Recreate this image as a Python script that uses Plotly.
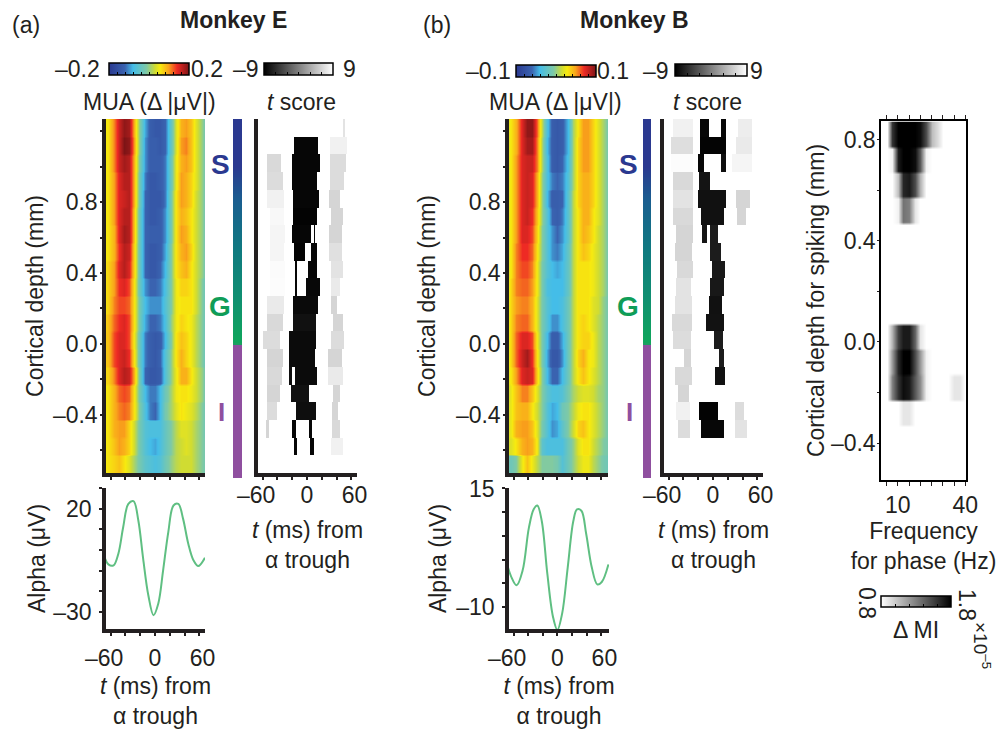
import numpy as np
import plotly.graph_objects as go

W, H = 999, 729
FONT = "Liberation Sans"
INK = "#231f20"
FS = 23

# ---------- data ----------
TIME_COLS = list(range(-70, 71, 7))
DEPTH_ROWS = [1.22, 1.12, 1.02, 0.92, 0.82, 0.72, 0.62, 0.52, 0.42, 0.32,
              0.22, 0.12, 0.02, -0.08, -0.18, -0.28, -0.38, -0.48, -0.58, -0.68]

# MUA, monkey E, in 0.01 uV
MUA_E = [
 [5,6,11,16,19,18,9,0,-9,-13,-14,-14,-12,-4,4,9,10,8,4,0,-4],
 [5,6,11,16,20,19,10,0,-10,-13,-13,-14,-12,-4,4,10,11,8,4,0,-4],
 [5,6,11,16,18,17,9,-1,-10,-13,-13,-13,-11,-3,5,9,10,8,4,0,-4],
 [5,6,10,15,17,17,9,-2,-11,-14,-14,-13,-11,-3,5,10,9,7,4,0,-4],
 [5,6,10,15,16,17,9,-2,-12,-14,-14,-14,-11,-2,6,10,9,7,3,0,-4],
 [5,6,10,15,17,17,8,-3,-12,-14,-14,-13,-10,-2,6,9,8,6,3,0,-4],
 [5,6,9,15,18,17,8,-3,-12,-13,-13,-13,-10,-2,6,10,9,6,3,0,-4],
 [5,6,9,14,17,16,7,-3,-12,-14,-14,-13,-9,-1,6,9,10,7,3,0,-4],
 [5,7,10,15,17,15,7,-3,-12,-14,-14,-12,-8,-1,6,8,9,6,3,0,-4],
 [5,7,10,14,15,13,6,-3,-10,-12,-12,-11,-7,-1,5,7,7,6,3,-1,-5],
 [5,7,11,13,13,12,6,-2,-8,-10,-10,-10,-6,-1,5,6,6,6,3,-1,-5],
 [6,8,12,14,15,13,6,-2,-9,-12,-12,-11,-7,0,5,7,6,5,2,-1,-5],
 [7,8,13,15,15,13,5,-3,-11,-13,-14,-13,-8,-1,6,8,7,5,2,-1,-5],
 [7,8,13,15,16,14,6,-3,-11,-13,-14,-12,-6,0,6,9,7,5,2,-1,-5],
 [6,7,11,15,17,16,9,-2,-12,-14,-14,-13,-6,0,5,9,9,6,3,0,-4],
 [5,6,9,12,13,12,6,-2,-8,-11,-11,-8,-3,1,5,6,6,5,3,0,-4],
 [5,6,9,11,12,11,6,-1,-7,-11,-12,-8,-2,1,4,6,5,4,2,-1,-4],
 [5,6,9,10,10,7,3,-2,-6,-7,-7,-7,-4,-1,2,4,4,3,1,-1,-4],
 [5,6,8,10,9,7,3,-2,-6,-8,-9,-7,-4,-1,2,3,4,3,1,-1,-3],
 [5,6,7,8,6,4,1,-2,-5,-6,-7,-6,-3,0,2,3,3,3,1,-1,-3],
]
# MUA, monkey B, in 0.005 uV
MUA_B = [
 [3,6,9,15,19,19,12,2,-7,-13,-14,-13,-8,1,6,10,10,7,4,1,-2],
 [3,6,9,15,18,18,11,1,-8,-13,-14,-13,-8,1,7,10,10,7,4,1,-2],
 [3,6,10,15,16,16,11,1,-7,-13,-14,-12,-7,1,7,10,10,7,4,1,-2],
 [3,6,10,15,16,15,9,0,-7,-11,-12,-11,-6,1,7,9,9,7,4,1,-2],
 [3,6,10,15,16,15,9,0,-8,-13,-13,-12,-5,2,7,9,9,7,4,1,-2],
 [3,6,10,15,16,14,8,0,-6,-12,-13,-11,-5,2,6,9,9,6,4,1,-2],
 [3,6,10,15,15,13,7,-1,-6,-10,-12,-10,-5,2,6,9,8,6,3,1,-2],
 [3,6,11,14,14,12,6,-1,-6,-10,-11,-9,-4,2,6,8,7,5,3,1,-2],
 [3,6,11,13,13,11,5,-2,-6,-8,-9,-8,-4,2,6,6,6,5,3,1,-2],
 [3,7,11,12,12,10,5,-2,-7,-8,-8,-8,-4,2,6,6,6,5,3,1,-2],
 [3,7,10,11,11,9,4,-2,-6,-8,-8,-7,-3,2,6,6,6,4,3,0,-2],
 [3,7,11,12,12,9,4,-2,-6,-10,-10,-7,-3,2,6,7,6,4,2,0,-2],
 [3,7,12,15,15,13,5,-2,-8,-13,-13,-9,-3,2,6,7,7,5,2,0,-2],
 [3,7,12,16,18,14,6,-2,-9,-14,-14,-10,-3,2,7,9,6,5,2,0,-2],
 [3,6,10,15,16,15,7,-1,-8,-12,-12,-8,-3,2,6,8,6,4,2,0,-2],
 [2,5,8,11,11,8,4,-1,-5,-7,-7,-6,-2,1,3,4,4,3,1,0,-2],
 [3,5,8,9,9,6,3,-1,-6,-9,-8,-3,-1,2,5,6,6,4,2,0,-2],
 [3,5,9,10,10,8,4,-2,-6,-10,-9,-5,-1,3,7,8,6,4,2,0,-2],
 [3,4,6,9,10,9,5,-5,-7,-7,-7,-7,-3,0,4,6,6,3,1,-1,-2],
 [-3,-3,-1,5,8,5,2,-1,-1,-1,-2,-6,-3,0,3,5,5,2,0,-2,-3],
]
# significant t scores per depth row: (start ms, end ms, t)
T_SCORE_E = [
 [(49,51,7)],
 [(-17,15,-8.6),(32,54,8)],
 [(-54,-36,6.3),(-20,17,-8.6),(32,52,6.5)],
 [(-54,-33,6.5),(-20,13,-8.6),(32,50,6.5)],
 [(-54,-32,8),(-18,16,-8.6),(30,45,6)],
 [(-50,-32,8.5),(-18,13,-8.8),(33,48,6)],
 [(-50,-30,8.3),(-20,5,-8.6),(9.5,11,-8.6),(31,47,6)],
 [(-50,-32,8.3),(-17,-3,-8.8),(6,13,-8.6),(31,47,6.8)],
 [(-50,-30,8.7),(-16,-14,-8.6),(2,13,-8.6),(33,49,7)],
 [(-50,-30,8.8),(-16,-14,-8.6),(-1,18,-8.4),(33,45,7.5)],
 [(-53,-31,7.5),(-18,15,-8.3),(33,41,6)],
 [(-53,-33,6.3),(-18,12,-7.8),(36,49,6)],
 [(-59,-37,6.5),(-23,12,-8.2),(33,50,6.5)],
 [(-53,-33,6),(-23,11,-8.2),(29,47,6)],
 [(-54,-34,6.3),(-23,-21,-8),(-15,13,-8.2),(29,49,7.5)],
 [(-54,-37,6),(-21,2,-7.8),(36,45,6)],
 [(-54,-41,6.5),(-14,12,-8),(35,42,6)],
 [(-55,-52,6),(-19,-15,-8.6),(3,7,-8.6),(35,45,6.3)],
 [(-17,-14,-8.6),(5,9,-8.6),(33,49,8)],
 [],
]
T_SCORE_B = [
 [(-53,-27,8),(-17,-6,-8.5),(11,17,-8.5),(34,52,7.7)],
 [(-56,-27,6.7),(-17,17,-8.7),(32,52,7.5)],
 [(-56,-27,8.8),(-20,-13,-8.5),(11,17,-8),(27,52,8.3)],
 [(-54,-27,6.3),(-18,-4,-7.6)],
 [(-53,-27,7),(-19,17,-7.8),(32,50,6)],
 [(-53,-27,6.3),(-15,15,-7.8),(33,45,6)],
 [(-50,-27,6),(-14,-9,-7.5),(-3,7,-7)],
 [(-51,-29,6),(-4,11,-7)],
 [(-48,-27,6.3),(0,16,-7.2)],
 [(-50,-30,7),(-3,15,-7.3)],
 [(-51,-29,7),(-5,12,-7.8)],
 [(-55,-29,6.3),(-9,15,-7.7)],
 [(-53,-30,6.5),(2,13,-7)],
 [(-38,-30,6),(9,14,-7)],
 [(-51,-29,6.3),(3,16,-7.8)],
 [(-47,-33,6)],
 [(-49,-32,8),(-18,7,-8.8),(31,42,6.5)],
 [(-47,-32,6.5),(-15,15,-8.5),(30,46,7)],
 [],
 [],
]
ALPHA_T_E = [-69,-63,-56,-49.5,-43,-36,-29,-22.5,-16,-9,-2,4.5,11,18,25,31.5,38,45,52,58.5,67.5]
ALPHA_V_E = [-2.6,-7,-7.5,-1.8,11,22.4,23.7,14.3,-4.2,-22,-31.7,-26,-9.9,8.7,21.6,22.4,15.1,3,-5,-7.8,-3.8]
ALPHA_T_B = [-69.4,-63.4,-55.8,-47.6,-39,-32.4,-27.4,-21.3,-13.7,-6,0,6.6,14.2,21.8,26.9,32.9,39.5,47.1,54.7,60.8,69.9]
ALPHA_V_B = [-0.55,-3.5,-5.4,-2.3,6.7,10.6,11.4,8.1,-3,-12,-14.8,-11.3,-1.6,8.1,10.6,10.3,5.4,-1.6,-5.2,-4.7,-1]
MI_FREQ = [2.5,5,7.5,10,12.5,15,17.5,20,22.5,25,27.5,30,32.5,35,37.5,40]
MI_DEPTH = [0.82,0.72,0.62,0.52,0.42,0.32,0.22,0.12,0.02,-0.08,-0.18,-0.28,-0.38,-0.48]
MI = [
 [.8,.8,1.6,1.8,1.8,1.8,1.8,1.75,1.5,1.05,.95,.8,.8,.8,.8,.8],
 [.8,.8,.85,1.7,1.8,1.8,1.75,1.45,.85,.8,.8,.8,.8,.8,.8,.8],
 [.8,.8,.8,1.05,1.65,1.7,1.5,1.1,.8,.8,.8,.8,.8,.8,.8,.8],
 [.8,.8,.8,.85,1.35,1.3,.9,.8,.8,.8,.8,.8,.8,.8,.8,.8],
 [.8]*16, [.8]*16, [.8]*16, [.8]*16,
 [.8,.8,1.1,1.55,1.7,1.7,1.4,.9,.8,.8,.8,.8,.8,.8,.8,.8],
 [.8,.8,1.2,1.65,1.8,1.8,1.5,1.2,.85,.8,.8,.8,.8,.8,.8,.8],
 [.8,.8,1.3,1.6,1.75,1.7,1.45,1.25,.85,.8,.8,.8,.8,.9,.9,.8],
 [.8,.8,.8,.8,.9,.9,.8,.8,.8,.8,.8,.8,.8,.8,.8,.8],
 [.8]*16, [.8]*16,
]
T_TICKS = [-60,-40,-20,0,20,40,60]
T_TEXT = ["–60\u00a0\u00a0","","","0","","","\u00a060"]
D_TICKS = [-0.6,-0.4,-0.2,0,0.2,0.4,0.6,0.8,1.0,1.2]
D_TEXT = ["","–0.4","","0.0","","0.4","","0.8","",""]

# ---------- styles ----------
JET = [[0,"#2a3990"],[.2,"#3a63b0"],[.3,"#44bde8"],[.47,"#7ec9a6"],[.575,"#d0dc32"],
       [.64,"#f7ea0f"],[.745,"#f9a41b"],[.85,"#ee2a24"],[1,"#7d1416"]]
GREY = [[0,"#000000"],[1,"#ffffff"]]
GREYR = [[0,"#ffffff"],[1,"#000000"]]
BAR_SCALE = [[0,"#8f4f9f"],[.377,"#8f4f9f"],[.3775,"#0fa75a"],[.5,"#0f9070"],[.637,"#0f7a80"],
             [.775,"#1a5e90"],[.868,"#2b3990"],[1,"#2b3990"]]
REPEAT = 8

def xdom(a, b): return [a / W, b / W]
def ydom(top, bottom): return [1 - bottom / H, 1 - top / H]

fig = go.Figure()
layout = {}
annos = []

def label(x, y, text, size=FS, anchor="center", angle=0, color=INK, bold=False):
    annos.append(dict(x=x / W, y=1 - y / H, xref="paper", yref="paper", text=f"<b>{text}</b>" if bold else text,
                      showarrow=False, xanchor=anchor, yanchor="middle", textangle=angle, borderpad=0, borderwidth=0,
                      font=dict(family=FONT, size=size, color=color)))

def axes(i, xd, yd, xr, yr, xa=None, ya=None):
    base = dict(showgrid=False, zeroline=False, showline=False, showticklabels=False, ticks="", automargin=False,
                tickfont=dict(family=FONT, size=FS, color=INK), fixedrange=True, tickangle=0)
    sx = "" if i == 1 else str(i)
    xd_ = dict(base, domain=xd, range=xr, anchor=f"y{sx}"); xd_.update(xa or {})
    yd_ = dict(base, domain=yd, range=yr, anchor=f"x{sx}"); yd_.update(ya or {})
    layout[f"xaxis{sx}"] = xd_
    layout[f"yaxis{sx}"] = yd_
    return f"x{sx}", f"y{sx}"

SPINE = dict(showline=True, linewidth=3.5, linecolor=INK)
TITLE_FONT = dict(family=FONT, size=FS, color=INK)
def bottom(labels=True, label_shift=0, title_standoff=8):
    d = dict(SPINE, ticks="outside", ticklen=3, tickwidth=2, tickcolor=INK, tickvals=T_TICKS, ticktext=T_TEXT,
             showticklabels=labels)
    if labels:
        d["ticklabelstandoff"] = label_shift
        d["title"] = dict(text="<i>t</i> (ms) from<br>α trough", standoff=title_standoff, font=TITLE_FONT)
    return d

def colorbar(x, y, w, h, vals):
    return dict(orientation="h", x=x / W, y=1 - y / H, xanchor="left", yanchor="top", xref="paper", yref="paper",
                len=w, lenmode="pixels", thickness=h, thicknessmode="pixels", xpad=0, ypad=0,
                outlinewidth=1.5, outlinecolor="#000000", ticks="inside", ticklen=3, tickwidth=1, tickcolor="#000000",
                tickvals=vals, showticklabels=False, borderwidth=0)

def segments_to_grid(rows):
    ms = np.arange(-70, 70.5, 1.0)
    z = np.full((len(rows), ms.size), np.nan)
    for r, segs in enumerate(rows):
        for t0, t1, v in segs:
            z[r, (ms + 0.5 > t0) & (ms - 0.5 < t1)] = v
    return ms, z

def panel(i0, mua, scale, zrange, cb_vals, cb_geo, tscore, t_cb, alpha_t, alpha_v,
          heat_x, t_x, bar_x, alpha_x, heat_xr, alpha_xr, alpha_yr, alpha_ticks, alpha_text, cort_so, alpha_so):
    # heat map
    depth = np.array(DEPTH_ROWS)
    sub = (np.arange(REPEAT) + 0.5) / REPEAT * 0.1 - 0.05
    y_rep = np.concatenate([d - sub for d in depth])
    z_rep = np.repeat(np.array(mua, float) * scale, REPEAT, axis=0)
    xa, ya = axes(i0, xdom(*heat_x), ydom(119, 473), heat_xr, [-0.73, 1.27], bottom(False),
                  dict(SPINE, ticks="outside", ticklen=2, tickwidth=2, tickcolor=INK, tickvals=D_TICKS, ticktext=D_TEXT,
                       showticklabels=True, ticklabelstandoff=-2,
                       title=dict(text="Cortical depth (mm)", standoff=cort_so, font=TITLE_FONT)))
    fig.add_trace(go.Heatmap(x=TIME_COLS, y=y_rep, z=z_rep, colorscale=JET, zmin=zrange[0], zmax=zrange[1],
                             zsmooth="best", xaxis=xa, yaxis=ya, colorbar=colorbar(*cb_geo, cb_vals),
                             showscale=True, hoverinfo="skip"))
    # t score
    ms, zt = segments_to_grid(tscore)
    xa, ya = axes(i0 + 1, xdom(*t_x), ydom(119, 473), [-66.2, 67.6], [-0.73, 1.27], bottom(True, -4, 16),
                  dict(SPINE, tickvals=[]))
    fig.add_trace(go.Heatmap(x=ms, y=DEPTH_ROWS, z=zt, colorscale=GREY, zmin=-9, zmax=9, xaxis=xa, yaxis=ya,
                             colorbar=colorbar(*t_cb, [-6,-3,0,3,6]), hoverinfo="skip"))
    # laminar bar
    bar_depth = np.arange(-0.76, 1.28, 0.01)
    xa, ya = axes(i0 + 2, xdom(*bar_x), ydom(119, 478), [0, 1], [-0.7525, 1.27])
    fig.add_trace(go.Heatmap(x=[0, 1], y=bar_depth, z=np.column_stack([bar_depth, bar_depth]), colorscale=BAR_SCALE,
                             zmin=-0.77, zmax=1.27, showscale=False, xaxis=xa, yaxis=ya, hoverinfo="skip"))
    # alpha
    xa, ya = axes(i0 + 3, xdom(*alpha_x), ydom(488, 629), alpha_xr, alpha_yr, bottom(True, 3, 16),
                  dict(SPINE, ticks="outside", ticklen=3, tickwidth=2, tickcolor=INK, tickvals=alpha_ticks,
                       ticktext=alpha_text, showticklabels=True, ticklabelstandoff=3,
                       title=dict(text="Alpha (μV)", standoff=alpha_so, font=TITLE_FONT)))
    fig.add_trace(go.Scatter(x=alpha_t, y=alpha_v, mode="lines", line=dict(color="#5fbf82", width=2, shape="spline"),
                             xaxis=xa, yaxis=ya, showlegend=False, hoverinfo="skip", cliponaxis=True))

panel(1, MUA_E, 0.01, (-0.2, 0.2), [-.16,-.12,-.08,-.04,0,.04,.08,.12,.16], (109, 63, 80, 12),
      T_SCORE_E, (264, 63, 69, 12), ALPHA_T_E, ALPHA_V_E,
      (106, 205), (258, 357), (233, 242), (106, 205), [-66.2, 67.6], [-66.2, 67.6], [-38.4, 30.1],
      [-30,-20,-10,0,10,20,30], ["–30","","","","","20",""], 4, 2)
panel(5, MUA_B, 0.005, (-0.1, 0.1), [-.08,-.06,-.04,-.02,0,.02,.04,.06,.08], (516, 65, 80, 12),
      T_SCORE_B, (675, 64, 72, 12), ALPHA_T_B, ALPHA_V_B,
      (509, 608), (664, 763), (643, 651), (509, 609), [-66.2, 69.4], [-66.2, 70.7], [-14.6, 15.1],
      [-10,-5,0,5,10,15], ["–10","","","","","15"], 15, 4)

# MI panel
sub = (np.arange(REPEAT) + 0.5) / REPEAT * 0.1 - 0.05
mi_y = np.concatenate([d - sub for d in MI_DEPTH])
mi_z = np.repeat(np.array(MI), REPEAT, axis=0)
xa, ya = axes(9, xdom(881, 966), ydom(121, 480), [2.5, 40.3], [-0.546, 0.873],
              dict(showline=True, linewidth=1.5, linecolor="#000000", mirror="ticks", ticks="outside", ticklen=4, tickwidth=1,
                   tickcolor=INK, tickvals=[5,10,15,20,25,30,35,40], ticktext=["","10","","","","","","40"], showticklabels=True,
                   title=dict(text="Frequency<br>for phase (Hz)", standoff=6, font=TITLE_FONT)),
              dict(showline=True, linewidth=1.5, linecolor="#000000", mirror=True, ticks="outside", ticklen=2, tickwidth=1,
                   tickcolor=INK, tickvals=[-0.4,-0.2,0,0.2,0.4,0.6,0.8], ticktext=["–0.4","","0.0","","0.4","","0.8"],
                   showticklabels=True, ticklabelstandoff=-3,
                   title=dict(text="Cortical depth for spiking (mm)", standoff=0, font=TITLE_FONT)))
fig.add_trace(go.Heatmap(x=MI_FREQ, y=mi_y, z=mi_z, colorscale=GREYR, zmin=0.8, zmax=1.8, zsmooth="best",
                         xaxis=xa, yaxis=ya, colorbar=colorbar(881, 596, 70, 11, [1,1.2,1.4,1.6]), hoverinfo="skip"))

# ---------- free text ----------
label(26, 25, "(a)"); label(437, 25, "(b)")
label(233, 20, "Monkey E", bold=True); label(634, 20, "Monkey B", bold=True)
label(100, 69, "–0.2", anchor="right"); label(191, 69, "0.2", anchor="left")
label(259, 69, "–9", anchor="right"); label(349, 69, "9")
label(511, 71, "–0.1", anchor="right"); label(597, 71, "0.1", anchor="left")
label(669, 71, "–9", anchor="right"); label(756, 71, "9")
label(149, 102, "MUA (Δ |μV|)"); label(301, 102, "<i>t</i> score")
label(555, 102, "MUA (Δ |μV|)"); label(707, 102, "<i>t</i> score")
label(220, 165, "S", size=28, color="#2b3990", bold=True)
label(220, 306, "G", size=28, color="#0f9d58", bold=True)
label(221, 412, "I", size=26, color="#8f4f9f", bold=True)
label(628, 165, "S", size=28, color="#2b3990", bold=True)
label(628, 306, "G", size=28, color="#0f9d58", bold=True)
label(629, 412, "I", size=26, color="#8f4f9f", bold=True)
label(867, 603, "0.8", angle=90); label(967, 605, "1.8", angle=90)
label(916, 630, "Δ MI")
label(982, 645, "×10<sup>–5</sup>", size=19, angle=90)

fig.update_layout(width=W, height=H, margin=dict(l=0, r=0, t=0, b=0, pad=0, autoexpand=False), autosize=False,
                  paper_bgcolor="#ffffff", plot_bgcolor="#ffffff", showlegend=False, annotations=annos,
                  font=dict(family=FONT, size=FS, color=INK), **layout)
fig.write_html("out.html", config=dict(displayModeBar=False),
               post_script="document.body.style.margin='0';document.body.style.overflow='hidden';")
